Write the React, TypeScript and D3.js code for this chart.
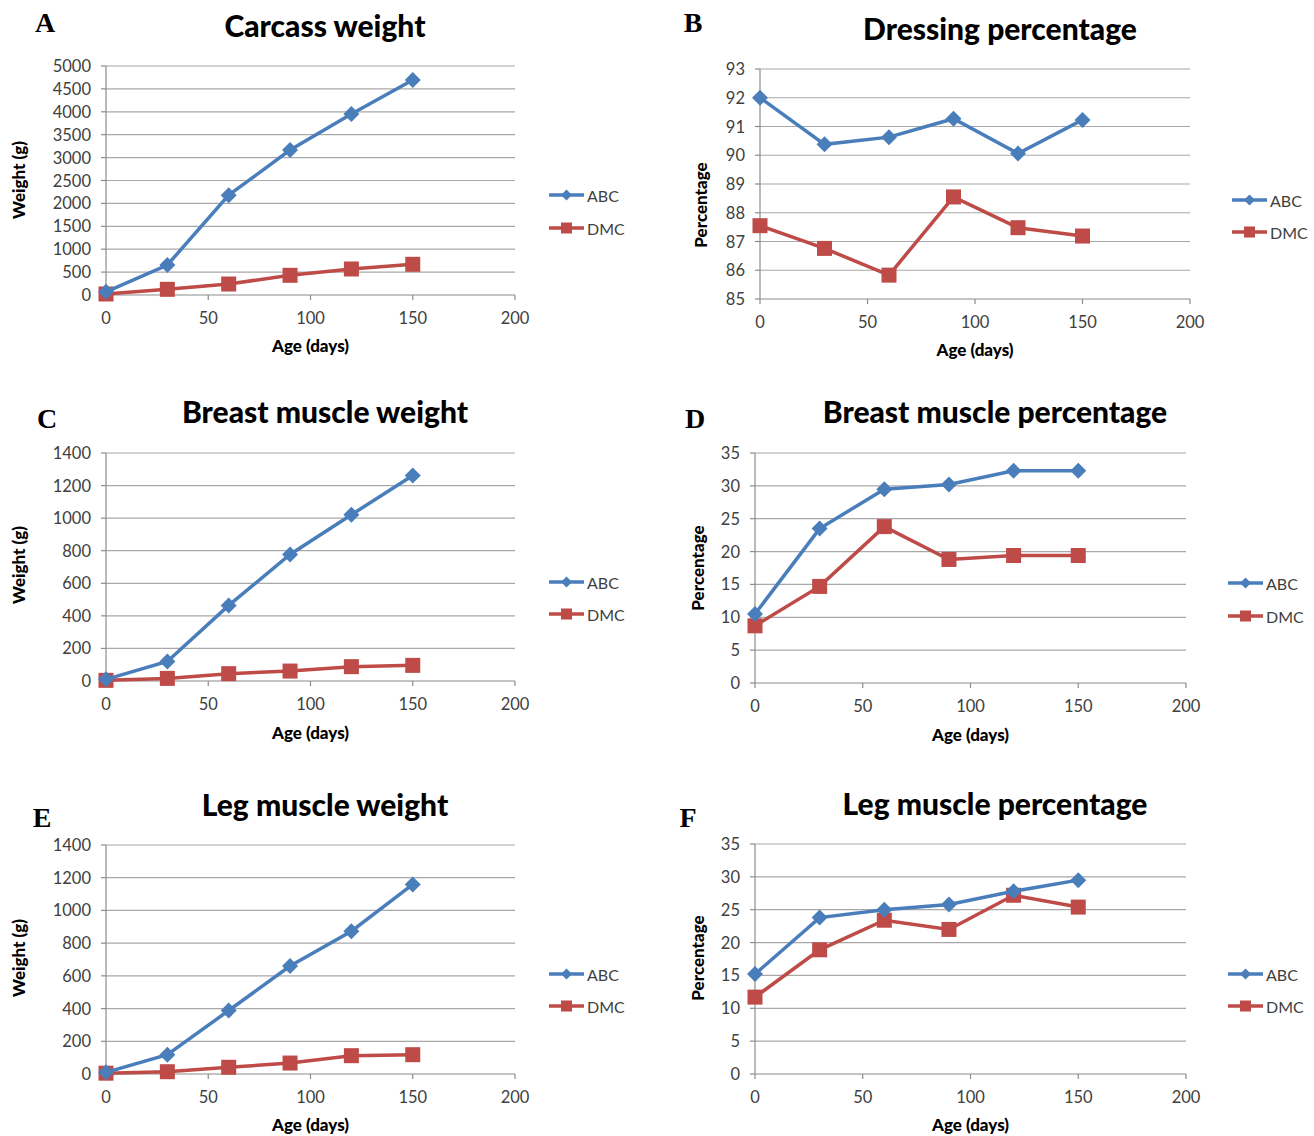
import React from "react";
import * as d3 from "d3";

const ages = [0, 30, 60, 90, 120, 150];
const seriesNames = ["ABC", "DMC"];

const carcassABC = [70, 655, 2180, 3165, 3950, 4695];
const carcassDMC = [22, 124, 240, 430, 568, 670];
const dressingABC = [92.0, 90.38, 90.63, 91.27, 90.06, 91.23];
const dressingDMC = [87.55, 86.76, 85.83, 88.55, 87.48, 87.19];
const breastWtABC = [10, 120, 464, 777, 1021, 1262];
const breastWtDMC = [4, 16, 45, 61, 88, 96];
const breastPctABC = [10.5, 23.5, 29.5, 30.2, 32.3, 32.3];
const breastPctDMC = [8.7, 14.7, 23.8, 18.8, 19.4, 19.4];
const legWtABC = [10, 118, 388, 660, 873, 1159];
const legWtDMC = [5, 14, 41, 67, 112, 118];
const legPctABC = [15.2, 23.8, 25.0, 25.8, 27.8, 29.5];
const legPctDMC = [11.7, 18.9, 23.4, 22.0, 27.2, 25.4];

const xTicks = [0, 50, 100, 150, 200];

const BLUE = "#4A7EBB";
const RED = "#BE4B48";
const FONT = "Lato, 'Open Sans', sans-serif";

const panels = [
  { letter: "A", title: "Carcass weight", yTitle: "Weight (g)", abc: carcassABC, dmc: carcassDMC, yDom: [0, 5000], yStep: 500,
    x0: 106, x1: 515, yTop: 66, yBot: 295, titleX: 325, titleY: 25, letterX: 45, letterY: 22, yTitleX: 18, yTitleY: 180, xTitleY: 345, legX: 549, legY: [195, 228] },
  { letter: "B", title: "Dressing percentage", yTitle: "Percentage", abc: dressingABC, dmc: dressingDMC, yDom: [85, 93], yStep: 1,
    x0: 760, x1: 1190, yTop: 69, yBot: 299, titleX: 1000, titleY: 28, letterX: 693, letterY: 22, yTitleX: 700, yTitleY: 205, xTitleY: 349, legX: 1232, legY: [200, 232] },
  { letter: "C", title: "Breast muscle weight", yTitle: "Weight (g)", abc: breastWtABC, dmc: breastWtDMC, yDom: [0, 1400], yStep: 200,
    x0: 106, x1: 515, yTop: 453, yBot: 681, titleX: 325, titleY: 411, letterX: 47, letterY: 418, yTitleX: 18, yTitleY: 565, xTitleY: 732, legX: 549, legY: [582, 614] },
  { letter: "D", title: "Breast muscle percentage", yTitle: "Percentage", abc: breastPctABC, dmc: breastPctDMC, yDom: [0, 35], yStep: 5,
    x0: 755, x1: 1186, yTop: 453, yBot: 683, titleX: 995, titleY: 411, letterX: 695, letterY: 418, yTitleX: 697, yTitleY: 568, xTitleY: 734, legX: 1228, legY: [583, 616] },
  { letter: "E", title: "Leg muscle weight", yTitle: "Weight (g)", abc: legWtABC, dmc: legWtDMC, yDom: [0, 1400], yStep: 200,
    x0: 106, x1: 515, yTop: 845, yBot: 1074, titleX: 325, titleY: 804, letterX: 42, letterY: 817, yTitleX: 18, yTitleY: 958, xTitleY: 1124, legX: 549, legY: [974, 1006] },
  { letter: "F", title: "Leg muscle percentage", yTitle: "Percentage", abc: legPctABC, dmc: legPctDMC, yDom: [0, 35], yStep: 5,
    x0: 755, x1: 1186, yTop: 844, yBot: 1074, titleX: 995, titleY: 803, letterX: 688, letterY: 817, yTitleX: 697, yTitleY: 958, xTitleY: 1124, legX: 1228, legY: [974, 1006] },
];

function Diamond({ cx, cy, r, color }: { cx: number; cy: number; r: number; color: string }) {
  return <path d={`M${cx},${cy - r}L${cx + r},${cy}L${cx},${cy + r}L${cx - r},${cy}Z`} fill={color} />;
}

function Square({ cx, cy, s, color }: { cx: number; cy: number; s: number; color: string }) {
  return <rect x={cx - s / 2} y={cy - s / 2} width={s} height={s} fill={color} />;
}

function Panel({ p }: { p: any }) {
  const x = d3.scaleLinear().domain([0, 200]).range([p.x0, p.x1]);
  const y = d3.scaleLinear().domain(p.yDom).range([p.yBot, p.yTop]);
  const yTicks = d3.range(p.yDom[0], p.yDom[1] + p.yStep / 2, p.yStep);
  const line = d3.line<number>().x((_, i) => x(ages[i])).y((v) => y(v));
  return (
    <g>
      <text x={p.letterX} y={p.letterY} textAnchor="middle" dominantBaseline="central"
        fontFamily="'Liberation Serif', 'Times New Roman', serif" fontWeight="bold" fontSize={28} fill="#000">{p.letter}</text>
      <text x={p.titleX} y={p.titleY} textAnchor="middle" dominantBaseline="central"
        fontFamily={FONT} fontWeight="900" fontSize={30} fill="#000">{p.title}</text>
      {yTicks.map((t: number) => (
        <g key={t}>
          <line x1={p.x0} x2={p.x1} y1={y(t)} y2={y(t)} stroke={t === p.yDom[0] ? "#8c8c8c" : "#a8a8a8"} strokeWidth={1.2} />
          <line x1={p.x0 - 5} x2={p.x0} y1={y(t)} y2={y(t)} stroke="#8c8c8c" strokeWidth={1.2} />
          <text x={p.x0 - 15} y={y(t)} textAnchor="end" dominantBaseline="central" fontFamily={FONT} fontSize={16.5} fill="#404040">{t}</text>
        </g>
      ))}
      <line x1={p.x0} x2={p.x0} y1={p.yTop} y2={p.yBot} stroke="#8c8c8c" strokeWidth={1.2} />
      {xTicks.map((t) => (
        <g key={t}>
          <line x1={x(t)} x2={x(t)} y1={p.yBot} y2={p.yBot + 5} stroke="#8c8c8c" strokeWidth={1.2} />
          <text x={x(t)} y={p.yBot + 23} textAnchor="middle" dominantBaseline="central" fontFamily={FONT} fontSize={16.5} fill="#404040">{t}</text>
        </g>
      ))}
      <text x={(p.x0 + p.x1) / 2} y={p.xTitleY} textAnchor="middle" dominantBaseline="central" fontFamily={FONT} fontWeight="900" fontSize={17} fill="#000">Age (days)</text>
      <text transform={`translate(${p.yTitleX},${p.yTitleY}) rotate(-90)`} textAnchor="middle" dominantBaseline="central" fontFamily={FONT} fontWeight="900" fontSize={17} fill="#000">{p.yTitle}</text>
      <path d={line(p.dmc) || ""} fill="none" stroke={RED} strokeWidth={3.5} />
      {p.dmc.map((v: number, i: number) => <Square key={i} cx={x(ages[i])} cy={y(v)} s={15} color={RED} />)}
      <path d={line(p.abc) || ""} fill="none" stroke={BLUE} strokeWidth={3.5} />
      {p.abc.map((v: number, i: number) => <Diamond key={i} cx={x(ages[i])} cy={y(v)} r={8} color={BLUE} />)}
      {seriesNames.map((name, k) => {
        const ly = p.legY[k];
        const color = k === 0 ? BLUE : RED;
        return (
          <g key={name}>
            <line x1={p.legX} x2={p.legX + 35} y1={ly} y2={ly} stroke={color} strokeWidth={3.5} />
            {k === 0 ? <Diamond cx={p.legX + 17.5} cy={ly} r={5.5} color={color} /> : <Square cx={p.legX + 17.5} cy={ly} s={11} color={color} />}
            <text x={p.legX + 38} y={ly} dominantBaseline="central" fontFamily={FONT} fontSize={16} fill="#404040">{name}</text>
          </g>
        );
      })}
    </g>
  );
}

export default function App() {
  return (
    <svg width={1314} height={1136} style={{ position: "absolute", left: 0, top: 0, background: "#fff" }}>
      <rect width={1314} height={1136} fill="#fff" />
      {panels.map((p) => <Panel key={p.letter} p={p} />)}
    </svg>
  );
}
